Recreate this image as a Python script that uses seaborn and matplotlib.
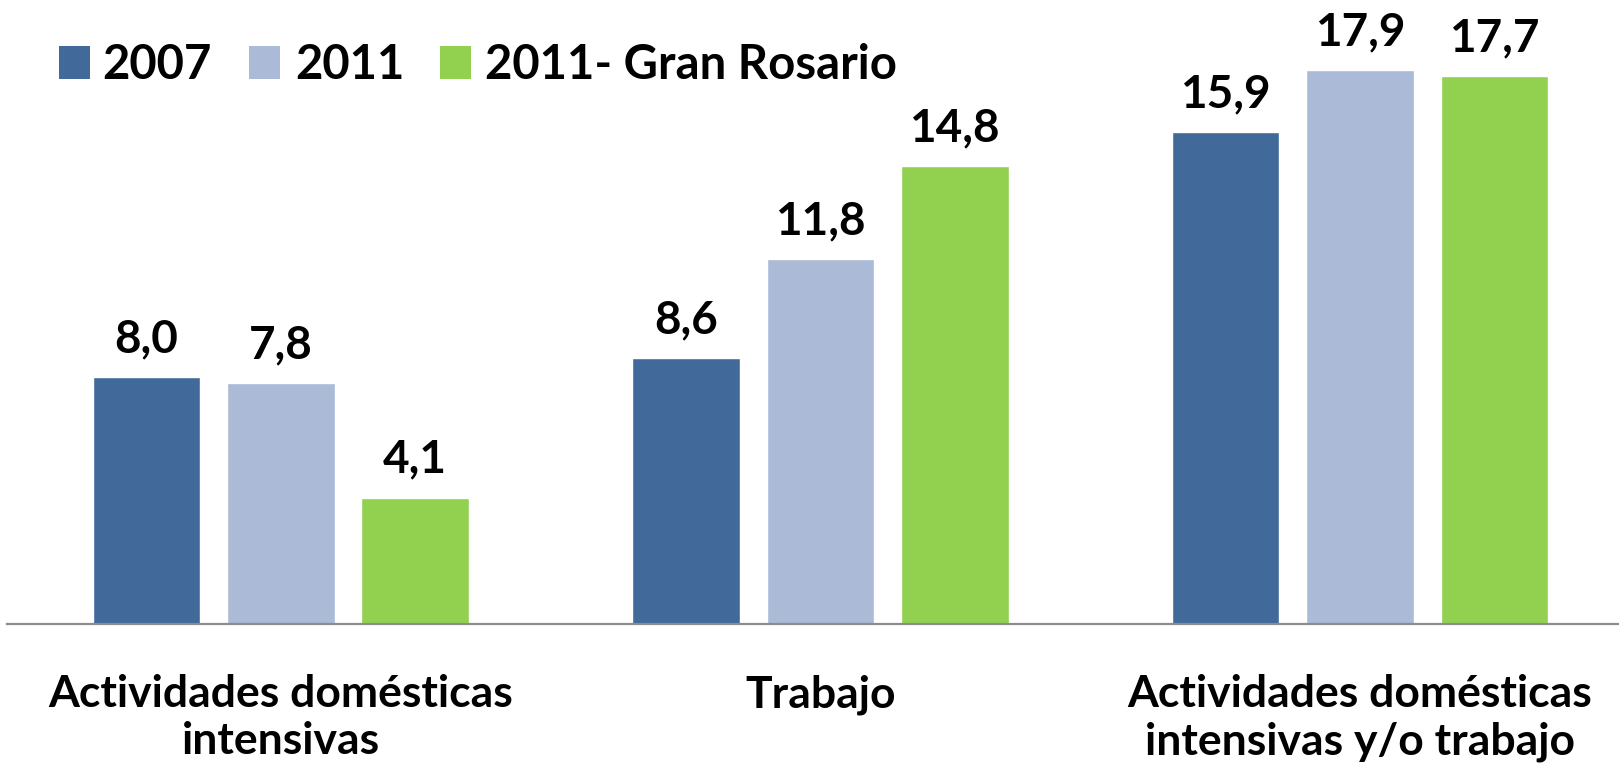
import matplotlib
matplotlib.use("Agg")
import matplotlib.pyplot as plt
import seaborn as sns
import pandas as pd
from matplotlib.patches import Rectangle

categorias = ["Actividades domésticas\nintensivas", "Trabajo",
              "Actividades domésticas\nintensivas y/o trabajo"]
series = ["2007", "2011", "2011- Gran Rosario"]
valores_2007 = [8.0, 8.6, 15.9]
valores_2011 = [7.8, 11.8, 17.9]
valores_rosario = [4.1, 14.8, 17.7]
colores = ["#416A9B", "#AABAD7", "#92D050"]

sns.set_theme(style="white")
plt.rcParams["font.family"] = ["Lato", "DejaVu Sans"]
plt.rcParams["font.weight"] = "bold"

df = pd.DataFrame({
    "categoria": categorias * 3,
    "serie": [s for s in series for _ in categorias],
    "valor": valores_2007 + valores_2011 + valores_rosario,
})

W, H = 1619, 770
fig = plt.figure(figsize=(W / 100, H / 100), dpi=100)
ax = fig.add_axes([7 / 1568, 0.189, 1 - 7 / 1568, 0.811])

sns.barplot(data=df, x="categoria", y="valor", hue="serie", order=categorias,
            hue_order=series, palette=colores, width=0.747, gap=0.2,
            saturation=1, legend=False, ax=ax)

for cont in ax.containers:
    etiquetas = [f"{b.get_height():.1f}".replace(".", ",") for b in cont]
    ax.bar_label(cont, labels=etiquetas, padding=12, fontsize=33,
                 fontweight="bold", color="black")

ax.set_xlim(-0.507, 2.48)
ax.set_ylim(0, 20.17)
ax.set_xlabel("")
ax.set_ylabel("")
ax.set_yticks([])
for lado in ["top", "right", "left"]:
    ax.spines[lado].set_visible(False)
ax.spines["bottom"].set_color("#8C8C8C")
ax.spines["bottom"].set_linewidth(1.6)
ax.tick_params(axis="x", length=0, pad=36)
for t in ax.get_xticklabels():
    t.set_fontsize(32)
    t.set_fontweight("bold")
    t.set_color("black")
    t.set_linespacing(1.2)
    t.set_verticalalignment("top")

# Legend row across the top: coloured square followed by the series name
clave_x = [59, 249, 440]
texto_x = [102, 295, 485]
for cx, tx, color, nombre in zip(clave_x, texto_x, colores, series):
    fig.add_artist(Rectangle((cx / W, (H - 79) / H), 31 / W, 33 / H,
                             transform=fig.transFigure, facecolor=color,
                             edgecolor="none"))
    fig.text(tx / W, (H - 79) / H, nombre, fontsize=34, fontweight="bold",
             color="black", ha="left", va="baseline")

fig.savefig("out.png", dpi=100)
